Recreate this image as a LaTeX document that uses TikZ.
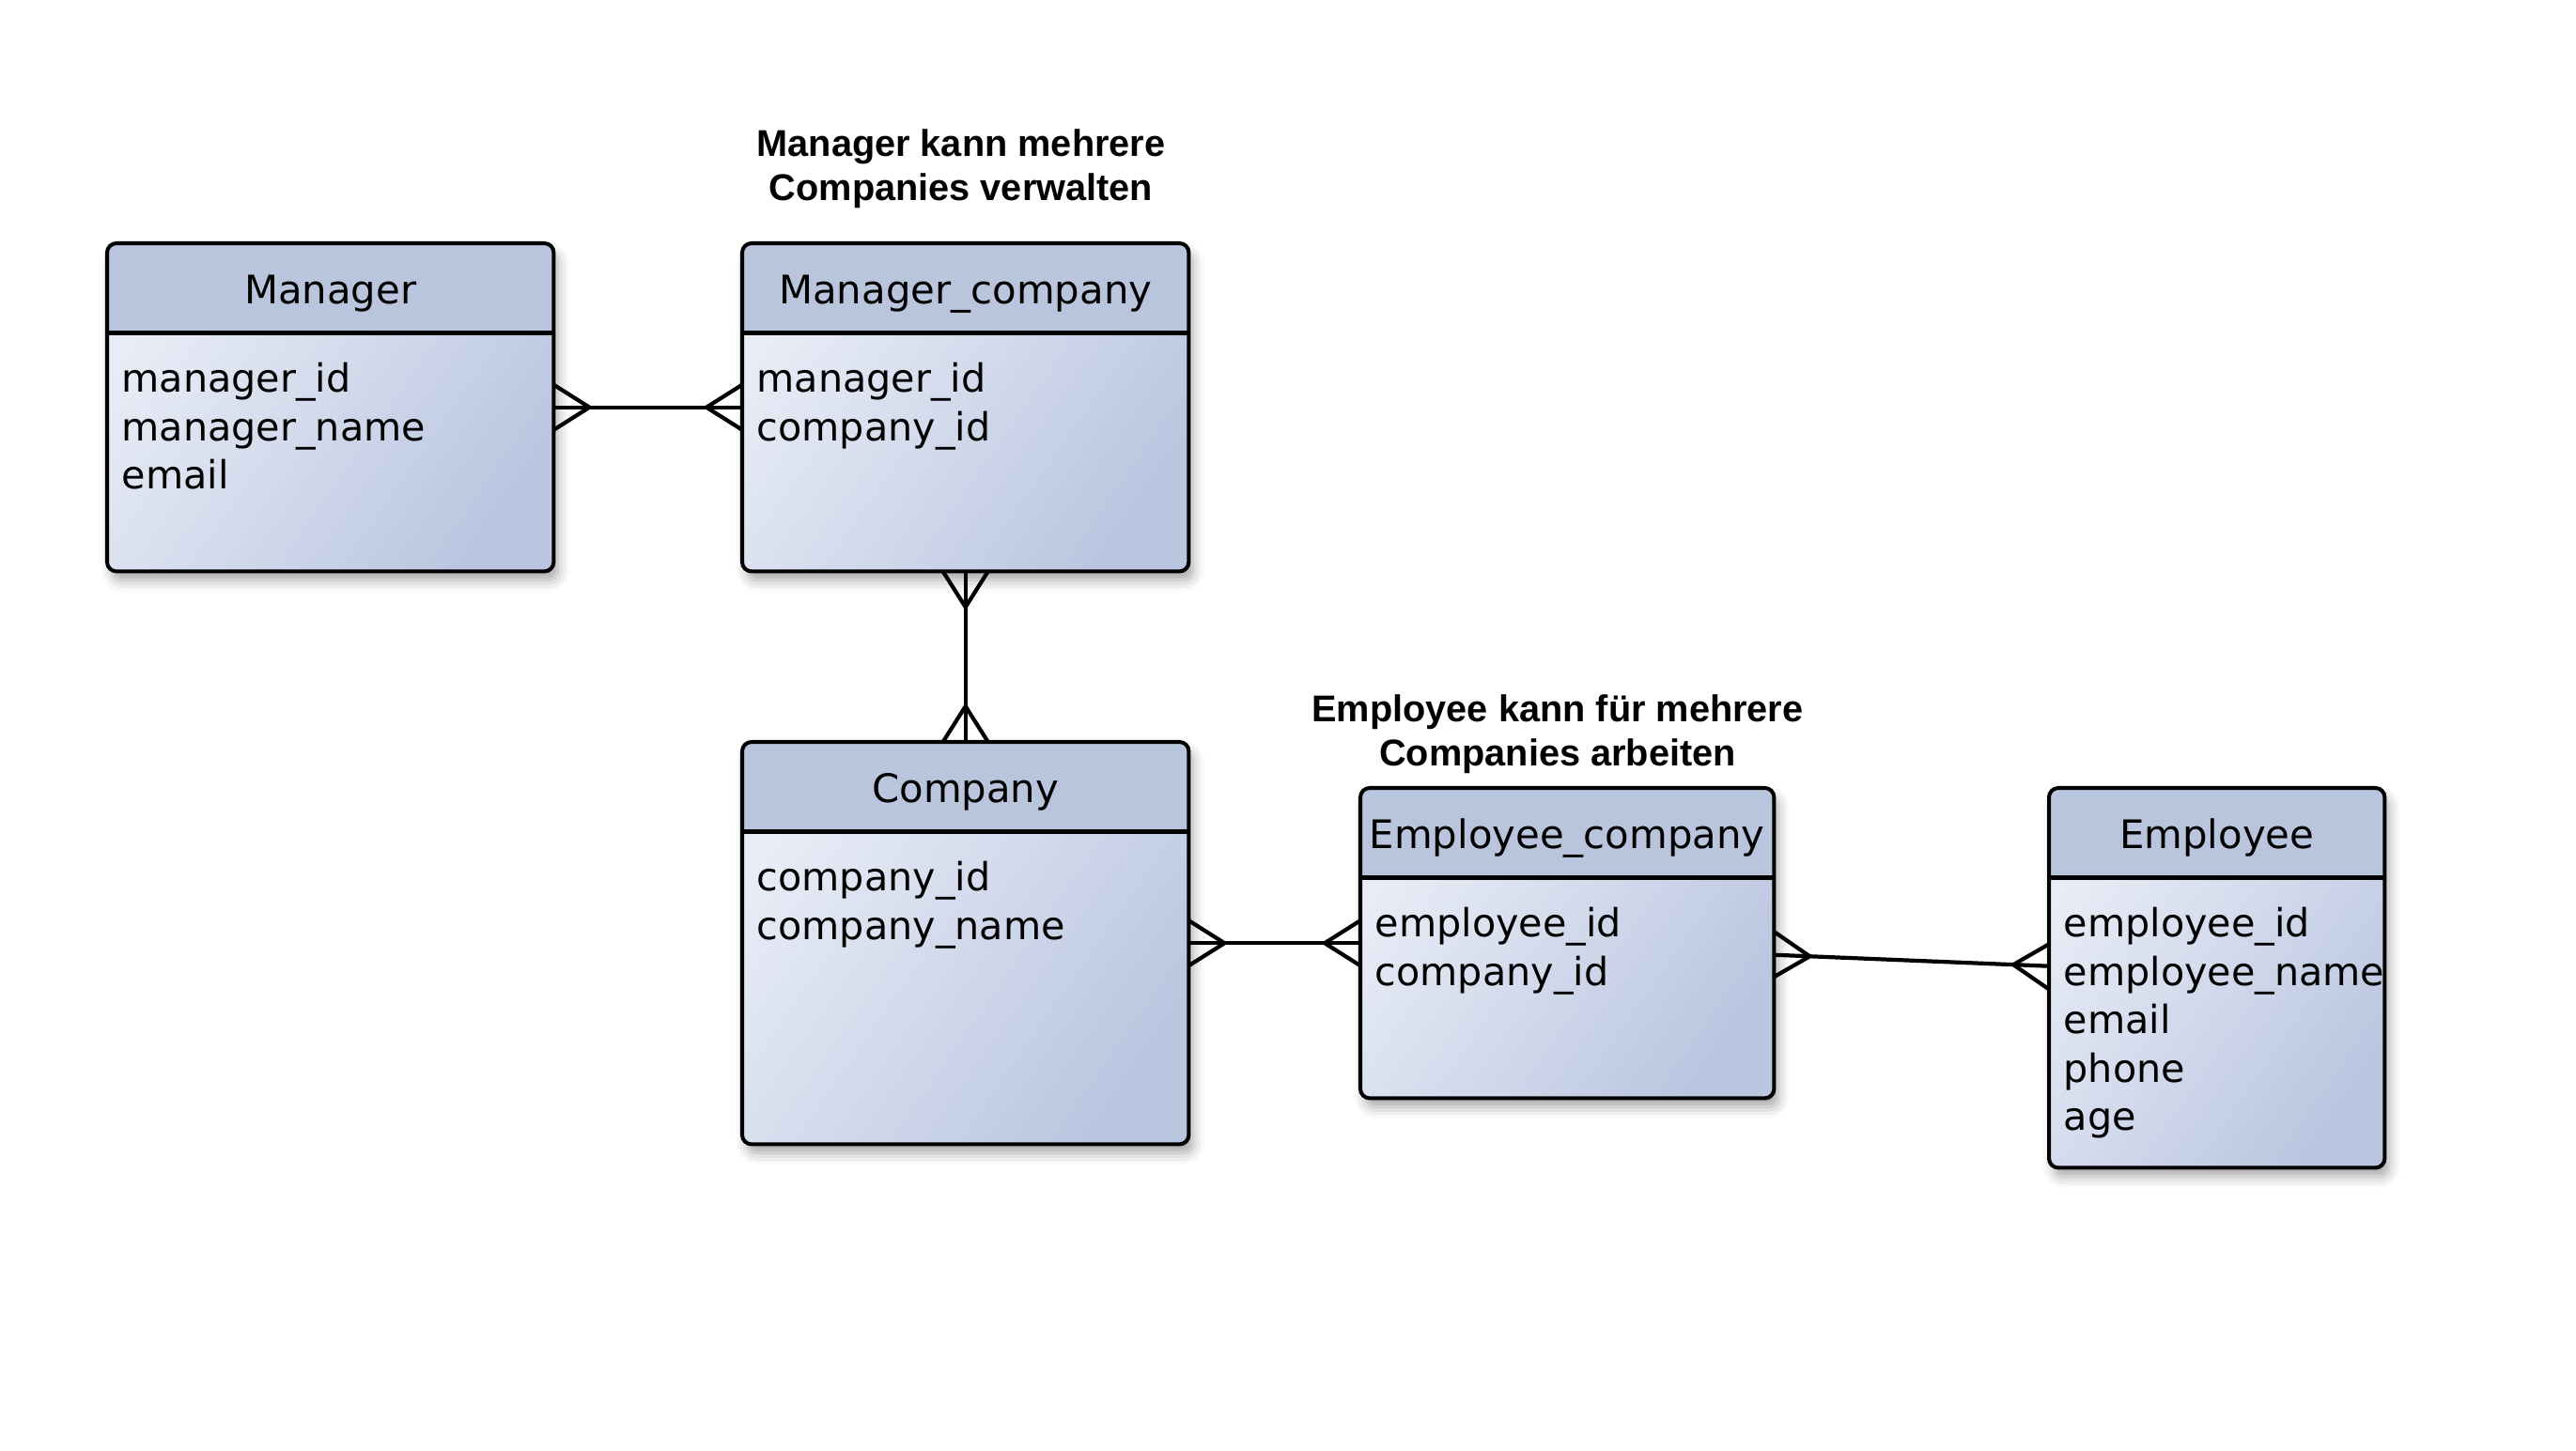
\documentclass[tikz,border=0pt]{standalone}
\usepackage{fontspec}
\setmainfont{DejaVu Sans}
\newfontfamily\notefont{Liberation Sans}
\usetikzlibrary{calc, shadows.blur}
\definecolor{headblue}{HTML}{B9C5DC}
\definecolor{bodylight}{HTML}{E8ECF6}
\definecolor{bodydark}{HTML}{BAC6E0}

\newcommand{\headh}{0.955cm}
\newcommand{\boxround}{0.1cm}
\newcommand{\crowlen}{0.38}
\newcommand{\crowhalf}{0.24}

% one table of the model: id, x, y, width, height, title, columns
\newcommand{\entity}[7]{%
  \node[entbox, minimum width=#4cm, minimum height=#5cm] (#1) at (#2,#3) {};
  \begin{scope}
    \clip[rounded corners=\boxround] (#1.south west) rectangle (#1.north east);
    \fill[headblue] (#1.north west) rectangle ([yshift=-\headh]#1.north east);
  \end{scope}
  \draw[boxline] ([yshift=-\headh]#1.north west) -- ([yshift=-\headh]#1.north east);
  \draw[boxline, rounded corners=\boxround] (#1.south west) rectangle (#1.north east);
  \node[titletext] (#1-title) at ([yshift=-0.64cm]#1.north) {#6};
  \foreach \a [count=\i] in {#7} {
    \node[attrtext] (#1-\i) at ([xshift=0.15cm, yshift={-1.585cm-(\i-1)*0.516cm}]#1.north west) {\a};
  }
}

\begin{document}
\begin{tikzpicture}[
    entbox/.style={rectangle, anchor=north west, inner sep=0pt, rounded corners=\boxround,
        top color=bodylight, bottom color=bodydark, shading angle=55,
        blur shadow={shadow xshift=0.05cm, shadow yshift=-0.1cm, shadow blur radius=0.12cm, shadow opacity=35}},
    boxline/.style={line width=1.15pt, black},
    conn/.style={line width=1.2pt, black},
    titletext/.style={anchor=base, inner sep=0pt, font=\fontsize{11.9}{14}\selectfont},
    attrtext/.style={anchor=base west, inner sep=0pt, font=\fontsize{11.75}{14.7}\selectfont},
    note/.style={align=center, inner sep=0pt, font=\notefont\bfseries\fontsize{11.3}{13.4}\selectfont},
    crowfoot/.pic={\draw[conn] (-\crowlen,0) -- (0,\crowhalf) (-\crowlen,0) -- (0,-\crowhalf);}
]
\useasboundingbox (0,0) rectangle (27.42,-15.44);

% Tables
\entity{mgr}{1.14}{-2.59}{4.74}{3.48}{Manager}{manager\_id, manager\_name, email}
\entity{mgrco}{7.90}{-2.59}{4.74}{3.48}{Manager\_company}{manager\_id, company\_id}
\entity{comp}{7.90}{-7.90}{4.74}{4.27}{Company}{company\_id, company\_name}
\entity{empco}{14.48}{-8.39}{4.39}{3.29}{Employee\_company}{employee\_id, company\_id}
\entity{emp}{21.81}{-8.39}{3.56}{4.03}{Employee}{employee\_id, employee\_name, email, phone, age}

% Notes
\node[note] (mgrnote) at (10.23,-1.80) {Manager kann mehrere\\Companies verwalten};
\node[note] (empnote) at (16.58,-7.82) {Employee kann für mehrere\\Companies arbeiten};

% ---------------------------------------------------------
% RELATIONS (crow's foot on both ends)
% ---------------------------------------------------------
\draw[conn] (mgr.east) -- (mgrco.west);
\pic[rotate=180] at (mgr.east) {crowfoot};
\pic at (mgrco.west) {crowfoot};

\draw[conn] (mgrco.south) -- (comp.north);
\pic[rotate=90] at (mgrco.south) {crowfoot};
\pic[rotate=-90] at (comp.north) {crowfoot};

\draw[conn] (comp.east) -- (empco.west);
\pic[rotate=180] at (comp.east) {crowfoot};
\pic at (empco.west) {crowfoot};

\coordinate (empcoR) at ([yshift=-0.125cm]empco.east);
\coordinate (empL) at ([yshift=0.125cm]emp.west);
\draw[conn] (empcoR) -- (empL);
\pic[rotate=177.66] at (empcoR) {crowfoot};
\pic[rotate=-2.34] at (empL) {crowfoot};

\end{tikzpicture}
\end{document}
